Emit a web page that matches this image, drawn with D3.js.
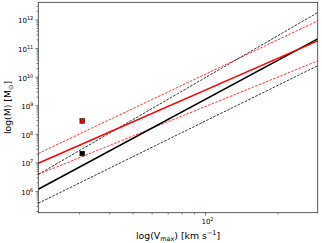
<!DOCTYPE html>
<html>
<head>
    <meta charset='utf-8' />
    <title>Vmax - mass relation</title>
    <style>
      body { margin: 0; background: #fff; }
      text { font-family: 'DejaVu Sans', sans-serif; fill: #000; }
    </style>
</head>
<body>
  <div id="wrapper"></div>
<script src='https://d3js.org/d3.v7.min.js' charset='utf-8'></script>
<script>
const width = 322
const height = 243
const margin = {top: 2.3, right: 4.3, bottom: 30.3, left: 38.3}

// Vmax extent of the plot (km/s) and log10(M) extent
const vExtent = [20.3, 294]
const logMExtent = [5.24, 12.6]

// fitted relations: log10(M) at the left and right edge of vExtent
const blackFit = [6.06, 11.32]
const blackUpper = [6.58, 12.24]
const blackLower = [5.57, 10.38]
const redFit = [6.97, 11.25]
const redUpper = [7.31, 11.95]
const redLower = [6.58, 10.55]

// the two measured objects
const pointV = [30.9, 30.9]
const pointLogM = [8.45, 7.31]
const pointColor = ['#ff0000', '#000000']

// ticks
const xMajor = [100]
const xMinor = [30, 40, 50, 60, 70, 80, 90, 200]
const yMajorExp = [6, 7, 8, 9, 10, 11, 12]

const svg = d3.select('#wrapper').append('svg')
    .attr('width', width)
    .attr('height', height)

const x = d3.scaleLog()
    .domain(vExtent)
    .range([margin.left, width - margin.right])
const y = d3.scaleLog()
    .domain(logMExtent.map(d => Math.pow(10, d)))
    .range([height - margin.bottom, margin.top])

const plot = svg.append('g')

// lines
const lines = [
    {v: blackLower, color: '#000', w: 0.8, dash: '2.6,1.3'},
    {v: blackUpper, color: '#000', w: 0.8, dash: '2.6,1.3'},
    {v: redLower, color: '#ff0000', w: 0.8, dash: '2.6,1.3'},
    {v: redUpper, color: '#ff0000', w: 0.8, dash: '2.6,1.3'},
    {v: blackFit, color: '#000', w: 1.6, dash: null},
    {v: redFit, color: '#ff0000', w: 1.6, dash: null}
]
const line = d3.line().x(d => x(d[0])).y(d => y(d[1]))
plot.selectAll('path.fit')
    .data(lines)
    .enter().append('path')
    .attr('class', 'fit')
    .attr('fill', 'none')
    .attr('stroke', d => d.color)
    .attr('stroke-width', d => d.w)
    .attr('stroke-dasharray', d => d.dash)
    .attr('d', d => line(vExtent.map((v, i) => [v, Math.pow(10, d.v[i])])))

// squares
const s = 4.6
plot.selectAll('rect.pt')
    .data(pointV)
    .enter().append('rect')
    .attr('class', 'pt')
    .attr('x', d => x(d) - s / 2)
    .attr('y', (d, i) => y(Math.pow(10, pointLogM[i])) - s / 2)
    .attr('width', s)
    .attr('height', s)
    .attr('fill', (d, i) => pointColor[i])
    .attr('stroke', '#000')
    .attr('stroke-width', 0.6)

// axes
const yMinor = []
for (let e = 5; e <= 12; e++) {
    for (let m = 2; m <= 9; m++) {
        const v = m * Math.pow(10, e)
        if (v >= y.domain()[0] && v <= y.domain()[1]) yMinor.push(v)
    }
}

const xAxisMinor = d3.axisBottom(x).tickValues(xMinor).tickFormat('').tickSize(1.8).tickSizeOuter(0)
const xAxisMajor = d3.axisBottom(x).tickValues(xMajor).tickSize(3).tickSizeOuter(0).tickPadding(2)
const yAxisMinor = d3.axisLeft(y).tickValues(yMinor).tickFormat('').tickSize(1.8).tickSizeOuter(0)
const yAxisMajor = d3.axisLeft(y).tickValues(yMajorExp.map(e => Math.pow(10, e)))
    .tickSize(3).tickSizeOuter(0).tickPadding(2)

const bottom = height - margin.bottom
svg.append('g').attr('transform', `translate(0,${bottom})`).call(xAxisMinor)
const gx = svg.append('g').attr('transform', `translate(0,${bottom})`).call(xAxisMajor)
svg.append('g').attr('transform', `translate(${margin.left},0)`).call(yAxisMinor)
const gy = svg.append('g').attr('transform', `translate(${margin.left},0)`).call(yAxisMajor)

svg.selectAll('.domain').remove()
svg.selectAll('.tick line').attr('stroke', '#333').attr('stroke-width', 0.6)

function powLabel(sel) {
    sel.selectAll('.tick text').each(function(d) {
        const t = d3.select(this)
        t.text(null).attr('font-size', 7).attr('font-family', null)
        t.append('tspan').text('10')
        t.append('tspan').attr('dy', -3).attr('font-size', 5).text(Math.round(Math.log10(d)))
    })
}
powLabel(gx)
powLabel(gy)
gx.selectAll('.tick text').attr('dy', '0.9em').attr('dx', 2)
gy.selectAll('.tick text').attr('dy', '0.5em')

// frame
svg.append('rect')
    .attr('x', margin.left)
    .attr('y', margin.top)
    .attr('width', width - margin.left - margin.right)
    .attr('height', height - margin.top - margin.bottom)
    .attr('fill', 'none')
    .attr('stroke', '#333')
    .attr('stroke-width', 0.8)

// axis labels
const xl = svg.append('text')
    .attr('x', (margin.left + width - margin.right) / 2)
    .attr('y', 238.5)
    .attr('text-anchor', 'middle')
    .attr('font-size', 9.3)
xl.append('tspan').text('log(V')
xl.append('tspan').attr('dy', 2).attr('font-size', 6.5).text('max')
xl.append('tspan').attr('dy', -2).text(') [km s')
xl.append('tspan').attr('dy', -3.5).attr('font-size', 6.5).text('\u22121')
xl.append('tspan').attr('dy', 3.5).text(']')

const yl = svg.append('text')
    .attr('transform', `translate(11.3,${(margin.top + height - margin.bottom) / 2}) rotate(-90)`)
    .attr('text-anchor', 'middle')
    .attr('font-size', 9.3)
yl.append('tspan').text('log(M) [M')
yl.append('tspan').attr('dy', 2).attr('font-size', 6.5).text('\u2299')
yl.append('tspan').attr('dy', -2).text(']')
</script>
</body>
</html>
